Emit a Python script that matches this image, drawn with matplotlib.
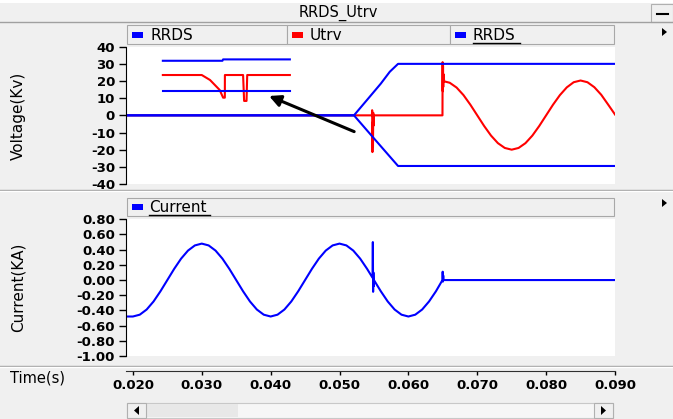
import matplotlib.pyplot as plt
from matplotlib.patches import Rectangle, Polygon

plt.rcParams["font.family"] = ["DejaVu Sans"]
plt.rcParams["axes.unicode_minus"] = False

W, H = 673, 419  # figure size in pixels

# DATA #######################################################################
# RRDS, two blue traces (kV)
rrds_up_t = [0.019, 0.0521, 0.0540, 0.0560, 0.0573, 0.0585, 0.090]
rrds_up_v = [0.0, 0.0, 9.0, 18.5, 25.4, 30.0, 30.0]
rrds_lo_t = [0.019, 0.0521, 0.0548, 0.0585, 0.090]
rrds_lo_v = [0.0, 0.0, -12.5, -29.5, -29.5]

# Utrv, red trace (kV)
utrv_t = [0.019, 0.0547, 0.05474, 0.05478, 0.05482, 0.05486, 0.0549, 0.05494, 0.0550,
          0.06495, 0.06497, 0.0650, 0.06503, 0.06506, 0.0651, 0.0652,
          0.066, 0.067, 0.068, 0.069, 0.070, 0.071, 0.072, 0.073, 0.074, 0.075,
          0.076, 0.077, 0.078, 0.079, 0.080, 0.081, 0.082, 0.083, 0.084, 0.085,
          0.086, 0.087, 0.088, 0.089, 0.090]
utrv_v = [0.0, 0.0, 3.0, -21.4, -4.0, -18.0, 1.5, -6.0, 0.0,
          0.0, 31.0, 14.0, 29.0, 16.5, 24.0, 19.8,
          19.0, 16.2, 11.8, 6.2, 0.0, -6.2, -11.8, -16.2, -19.0, -20.0,
          -19.0, -16.2, -11.8, -6.2, 0.0, 6.2, 11.8, 16.3, 19.3, 20.3,
          19.3, 16.4, 12.0, 6.3, 0.5]

# Current, blue trace (kA)
cur_t = [0.019, 0.020, 0.021, 0.022, 0.023, 0.024, 0.025, 0.026, 0.027, 0.028, 0.029,
         0.030, 0.031, 0.032, 0.033, 0.034, 0.035, 0.036, 0.037, 0.038, 0.039,
         0.040, 0.041, 0.042, 0.043, 0.044, 0.045, 0.046, 0.047, 0.048, 0.049,
         0.050, 0.051, 0.052, 0.053, 0.054, 0.0548, 0.05484, 0.05488, 0.05492,
         0.05496, 0.0550, 0.056, 0.057, 0.058, 0.059, 0.060, 0.061, 0.062, 0.063,
         0.064, 0.06495, 0.06498, 0.06502, 0.06506, 0.0651, 0.090]
cur_v = [-0.48, -0.48, -0.456, -0.388, -0.282, -0.148, 0.0, 0.148, 0.282, 0.388, 0.456,
         0.48, 0.456, 0.388, 0.282, 0.148, 0.0, -0.148, -0.282, -0.388, -0.456,
         -0.48, -0.456, -0.388, -0.282, -0.148, 0.0, 0.148, 0.282, 0.388, 0.456,
         0.48, 0.456, 0.388, 0.282, 0.148, 0.03, 0.50, -0.155, 0.10, -0.08,
         0.0, -0.148, -0.282, -0.388, -0.456, -0.48, -0.456, -0.388, -0.282,
         -0.148, 0.0, 0.11, -0.02, 0.06, 0.0, 0.0]

# small sketch drawn inside the voltage plot
sk_top_t = [0.02435, 0.0330, 0.0331, 0.04279]
sk_top_v = [31.8, 31.8, 32.6, 32.6]
sk_red_t = [0.02435, 0.0300, 0.0312, 0.0326, 0.0331, 0.03335, 0.03336,
            0.0360, 0.03615, 0.0365, 0.0366, 0.04279]
sk_red_v = [23.5, 23.5, 20.6, 14.8, 10.3, 10.3, 23.5, 23.5, 8.4, 8.4, 23.5, 23.5]
sk_bot_t = [0.02435, 0.04279]
sk_bot_v = [14.2, 14.2]
arrow_tip = (0.0394, 11.9)
arrow_tail = (0.0525, -10.1)

time_ticks = [0.020, 0.030, 0.040, 0.050, 0.060, 0.070, 0.080, 0.090]
volt_ticks = [40, 30, 20, 10, 0, -10, -20, -30, -40]
cur_ticks = [0.80, 0.60, 0.40, 0.20, 0.00, -0.20, -0.40, -0.60, -0.80, -1.00]
legend_top = [("RRDS", "#0000ff", False), ("Utrv", "#ff0000", False), ("RRDS", "#0000ff", True)]

BLUE = "#0000ff"
RED = "#ff0000"
BG = "#f0f0f0"
LW = 1.5
TICKFONT = dict(family="DejaVu Sans", weight="bold", size=9.5)


def rect(x0, y0, x1, y1):
    """pixel box (top-left origin) -> figure fraction [l, b, w, h]"""
    return [x0 / W, 1 - y1 / H, (x1 - x0) / W, (y1 - y0) / H]


fig = plt.figure(figsize=(W / 100, H / 100), dpi=100, facecolor=BG)

# chrome layer in pixel coordinates
bg = fig.add_axes([0, 0, 1, 1], zorder=-1)
bg.set_xlim(0, W)
bg.set_ylim(H, 0)
bg.axis("off")

# title bar
bg.add_patch(Rectangle((0, 0), W, 3, facecolor="white", edgecolor="none"))
bg.plot([0, W], [22.5, 22.5], color="#a0a0a0", lw=1)
bg.text(338, 13, "RRDS_Utrv", ha="center", va="center", fontsize=10.5)
bg.add_patch(Rectangle((651, 4), 22, 18, facecolor=BG, edgecolor="#b0b0b0", lw=0.8))
bg.plot([657, 668], [14, 14], color="black", lw=1.5)

# legend row of the voltage plot
edges = [127, 287, 450, 614]
for i, (name, col, under) in enumerate(legend_top):
    x0, x1 = edges[i], edges[i + 1]
    bg.add_patch(Rectangle((x0, 25), x1 - x0, 19, facecolor=BG, edgecolor="#a8a8a8", lw=0.8))
    bg.add_patch(Rectangle((x0 + 5, 32), 11, 6, facecolor=col, edgecolor="none"))
    bg.text(x0 + 23, 35, name, ha="left", va="center", fontsize=11)
    if under:
        bg.plot([x0 + 23, x0 + 70], [43, 43], color="black", lw=1)

# legend row of the current plot
bg.add_patch(Rectangle((127, 198), 487, 18, facecolor=BG, edgecolor="#a8a8a8", lw=0.8))
bg.add_patch(Rectangle((132, 204), 11, 6, facecolor=BLUE, edgecolor="none"))
bg.text(149, 207, "Current", ha="left", va="center", fontsize=11)
bg.plot([149, 210], [214.5, 214.5], color="black", lw=1)

for yy in (32, 203):
    bg.add_patch(Polygon([[662, yy - 4], [662, yy + 4], [667, yy]], closed=True,
                         facecolor="black", edgecolor="none"))

# separators
for yy in (190, 366):
    bg.plot([0, W], [yy, yy], color="#a0a0a0", lw=1)
    bg.plot([0, W], [yy + 1, yy + 1], color="white", lw=1)

# y labels
bg.text(18, 116, "Voltage(Kv)", rotation=90, ha="center", va="center", fontsize=11)
bg.text(18, 287, "Current(KA)", rotation=90, ha="center", va="center", fontsize=11)
bg.text(10, 378, "Time(s)", ha="left", va="center", fontsize=10.5)

# scroll bar
bg.add_patch(Rectangle((127, 403), 486, 15, facecolor="#f6f6f6", edgecolor="#c8c8c8", lw=0.8))
bg.add_patch(Rectangle((146, 404), 92, 13, facecolor="#e8e8e8", edgecolor="none"))
bg.add_patch(Rectangle((127, 403), 19, 15, facecolor=BG, edgecolor="#b0b0b0", lw=0.8))
bg.add_patch(Rectangle((594, 403), 19, 15, facecolor=BG, edgecolor="#b0b0b0", lw=0.8))
bg.add_patch(Polygon([[139, 406], [139, 415], [134, 410.5]], closed=True, facecolor="black"))
bg.add_patch(Polygon([[601, 406], [601, 415], [606, 410.5]], closed=True, facecolor="black"))


def style(ax, ticks, fmt):
    ax.set_facecolor("white")
    for s in ("top", "right", "bottom"):
        ax.spines[s].set_visible(False)
    ax.spines["left"].set_color("black")
    ax.set_xlim(0.019, 0.090)
    ax.set_xticks([])
    ax.set_yticks(ticks)
    ax.set_yticklabels([fmt.format(v) for v in ticks], fontdict=TICKFONT)
    ax.tick_params(axis="y", direction="out", length=5, width=1, pad=3)


# voltage plot
ax_v = fig.add_axes(rect(126, 46.7, 615, 184))
style(ax_v, volt_ticks, "{:d}")
ax_v.set_ylim(-40, 40)
ax_v.plot(utrv_t, utrv_v, color=RED, lw=LW)
ax_v.plot(rrds_up_t, rrds_up_v, color=BLUE, lw=LW)
ax_v.plot(rrds_lo_t, rrds_lo_v, color=BLUE, lw=LW)
ax_v.plot(sk_top_t, sk_top_v, color=BLUE, lw=LW)
ax_v.plot(sk_red_t, sk_red_v, color=RED, lw=LW)
ax_v.plot(sk_bot_t, sk_bot_v, color=BLUE, lw=LW)
ax_v.annotate("", xy=arrow_tip, xytext=arrow_tail,
              arrowprops=dict(arrowstyle="-|>", color="black", lw=2.2, mutation_scale=17))

# current plot
ax_c = fig.add_axes(rect(126, 219.3, 615, 356))
style(ax_c, cur_ticks, "{:.2f}")
ax_c.set_ylim(-1.0, 0.8)
ax_c.plot(cur_t, cur_v, color=BLUE, lw=LW)

# time axis
ax_t = fig.add_axes(rect(126, 369.5, 615, 370.5))
ax_t.set_facecolor("none")
for s in ("top", "right", "left"):
    ax_t.spines[s].set_visible(False)
ax_t.spines["bottom"].set_color("#303030")
ax_t.set_xlim(0.019, 0.090)
ax_t.set_yticks([])
ax_t.set_xticks(time_ticks)
ax_t.set_xticklabels(["{:.3f}".format(v) for v in time_ticks], fontdict=TICKFONT)
ax_t.tick_params(axis="x", direction="out", length=3, width=1, pad=3)

fig.savefig("out.png", dpi=100, facecolor=BG)
